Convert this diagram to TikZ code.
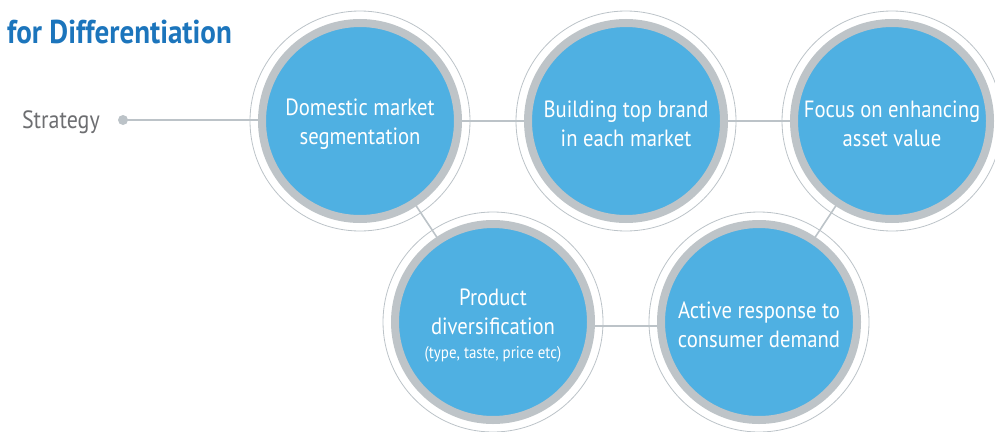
\documentclass[tikz,border=0pt]{standalone}
\usepackage{fontspec}
\setmainfont{PT Sans}[FakeStretch=0.88]
\definecolor{cblue}{RGB}{79,176,226}
\definecolor{cring}{RGB}{190,196,200}
\definecolor{cline}{RGB}{188,195,200}
\definecolor{ctitle}{RGB}{28,117,188}
\definecolor{ctext}{RGB}{109,110,113}
\newcommand{\lowr}{\rule{0pt}{23pt}}
\begin{document}
\begin{tikzpicture}[x=1pt,y=-1pt,
  bubble/.style={circle, minimum size=196pt, inner sep=0pt, fill=cblue, draw=cring, line width=8pt, text=white, align=center, font=\fontsize{23.5}{29}\selectfont},
  halo/.style={circle, minimum size=220pt, draw=cline, line width=0.8pt, inner sep=0pt},
  link/.style={draw=cline, line width=1.6pt}]
\clip (0,0) rectangle (995,431);
\useasboundingbox (0,0) rectangle (995,431);
\coordinate (c1) at (360,121);
\coordinate (c2) at (626,121);
\coordinate (c3) at (892,121);
\coordinate (c4) at (493,322);
\coordinate (c5) at (759,322);
% title and label
\node[anchor=base west, text=ctitle, inner sep=0pt, font=\bfseries\fontsize{33}{35}\selectfont] (title) at (7,43) {for Differentiation};
\node[anchor=base east, text=ctext, inner sep=0pt, font=\fontsize{25}{28}\selectfont] (strat) at (100,128) {Strategy};
\node[circle, fill=cline, minimum size=10pt, inner sep=0pt] (dot) at (123,120) {};
% connectors
\draw[link] (dot.center) -- (c1 |- dot.center);
\draw[link] (c1) -- (c2);
\draw[link] (c2) -- (c3);
\draw[link] (c1) -- (c4);
\draw[link] (c3) -- (c5);
\draw[link] ([yshift=-4pt]c4) -- ([yshift=-4pt]c5);
% halos
\foreach \c in {c1,c2,c3,c4,c5} \node[halo] at (\c) {};
% bubbles
\node[bubble] (b1) at (c1) {\lowr Domestic market\\segmentation};
\node[bubble] (b2) at (c2) {\lowr Building top brand\\in each market};
\node[bubble] (b3) at (c3) {\lowr Focus on enhancing\\asset value};
\node[bubble] (b4) at (c4) {\lowr Product\\diversification\\[-5pt]{\fontsize{17}{20}\selectfont (type, taste, price etc)}};
\node[bubble] (b5) at (c5) {\lowr Active response to\\consumer demand};
\end{tikzpicture}
\end{document}
